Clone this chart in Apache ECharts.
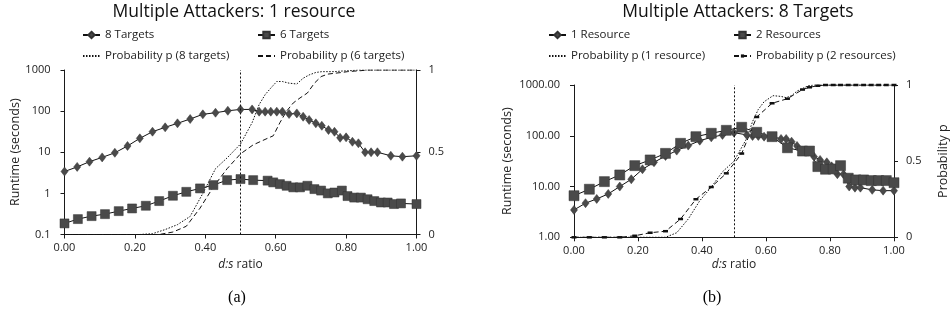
<!DOCTYPE html>
<html>
<head>
<meta charset="utf-8">
<script src="https://cdn.jsdelivr.net/npm/echarts@6/dist/echarts.min.js"></script>
<style>
html,body{margin:0;padding:0;background:#fff;}
#c{width:951px;height:320px;}
</style>
</head>
<body>
<div id="c"></div>
<script>
// ---------- Chart (a): Multiple Attackers: 1 resource ----------
const xTargets8 = [0, 0.036, 0.071, 0.107, 0.143, 0.179, 0.214, 0.25, 0.286, 0.321, 0.357, 0.393, 0.429, 0.464, 0.5, 0.533, 0.553, 0.57, 0.586, 0.603, 0.619, 0.638, 0.66, 0.678, 0.695, 0.714, 0.731, 0.75, 0.767, 0.783, 0.80, 0.818, 0.835, 0.854, 0.871, 0.889, 0.927, 0.96, 1.0];
const runtimeTargets8 = [3.4, 4.4, 5.9, 7.5, 9.7, 14.2, 21.8, 31.6, 40.4, 50.5, 64.3, 83.6, 91.5, 102, 110, 110, 97, 97, 97, 97, 97, 85, 88, 73, 61, 50.5, 44, 34.7, 31.5, 22.5, 23, 18, 16.5, 10, 10, 10, 8.2, 7.8, 8.2];
const probTargets8 = [0, 0, 0, 0, 0, 0, 0, 0.005, 0.03, 0.06, 0.11, 0.25, 0.40, 0.47, 0.55, 0.68, 0.79, 0.85, 0.89, 0.93, 0.93, 0.92, 0.915, 0.95, 0.97, 0.985, 0.99, 0.99, 0.99, 0.993, 0.995, 0.997, 1, 1, 1, 1, 1, 1, 1];

const xTargets6 = [0, 0.038, 0.077, 0.115, 0.154, 0.192, 0.231, 0.269, 0.308, 0.346, 0.385, 0.423, 0.462, 0.5, 0.536, 0.577, 0.593, 0.612, 0.631, 0.65, 0.669, 0.69, 0.71, 0.729, 0.748, 0.767, 0.788, 0.804, 0.823, 0.842, 0.861, 0.88, 0.899, 0.918, 0.936, 0.956, 1.0];
const runtimeTargets6 = [0.186, 0.237, 0.28, 0.313, 0.37, 0.43, 0.50, 0.65, 0.875, 1.09, 1.32, 1.59, 2.1, 2.23, 2.1, 2.04, 1.85, 1.68, 1.53, 1.40, 1.40, 1.53, 1.27, 1.17, 1.0, 1.05, 1.17, 0.86, 0.79, 0.79, 0.72, 0.65, 0.60, 0.60, 0.55, 0.57, 0.55];
const probTargets6 = [0, 0, 0, 0, 0, 0, 0, 0, 0.015, 0.05, 0.16, 0.29, 0.40, 0.49, 0.545, 0.585, 0.60, 0.68, 0.75, 0.80, 0.83, 0.86, 0.92, 0.96, 0.975, 0.98, 0.985, 0.99, 0.993, 0.996, 1, 1, 1, 1, 1, 1, 1];

// ---------- Chart (b): Multiple Attackers: 8 Targets ----------
const xRes1 = [0, 0.036, 0.071, 0.107, 0.143, 0.179, 0.214, 0.25, 0.286, 0.321, 0.357, 0.393, 0.429, 0.464, 0.5, 0.54, 0.558, 0.576, 0.594, 0.622, 0.647, 0.663, 0.68, 0.697, 0.732, 0.75, 0.769, 0.79, 0.805, 0.823, 0.842, 0.86, 0.878, 0.895, 0.932, 0.966, 1.0];
const runtimeRes1 = [3.46, 4.7, 5.7, 7.15, 10, 13.9, 21.9, 30, 40, 51, 64, 80, 93, 104, 115, 104, 99, 99, 96, 96, 86.5, 86.5, 76.5, 63, 48.6, 38.8, 33.4, 30, 25, 17.5, 17.5, 10, 9.5, 9.5, 8.6, 8.3, 8.3];
const probRes1 = [0, 0, 0, 0, 0, 0, 0, 0, 0, 0.03, 0.12, 0.24, 0.33, 0.43, 0.50, 0.65, 0.76, 0.84, 0.89, 0.93, 0.925, 0.917, 0.93, 0.96, 0.995, 1, 1, 1, 1, 1, 1, 1, 1, 1, 1, 1, 1];

const xRes2 = [0, 0.048, 0.095, 0.143, 0.19, 0.238, 0.286, 0.333, 0.381, 0.429, 0.476, 0.524, 0.571, 0.619, 0.667, 0.714, 0.736, 0.762, 0.786, 0.81, 0.833, 0.857, 0.881, 0.905, 0.929, 0.952, 0.976, 1.0];
const runtimeRes2 = [6.6, 8.85, 12.5, 16.9, 25.8, 33.4, 45, 71, 96, 112, 128, 147, 117, 96, 58, 50, 50, 24.7, 21.9, 22.2, 25.8, 14.6, 13.5, 13.5, 13.1, 13.1, 13.1, 11.9];
const probRes2 = [0, 0, 0, 0, 0.01, 0.03, 0.04, 0.12, 0.25, 0.33, 0.42, 0.55, 0.79, 0.88, 0.91, 0.97, 0.985, 0.995, 1, 1, 1, 1, 1, 1, 1, 1, 1, 1];

const xTicks = [0, 0.2, 0.4, 0.6, 0.8, 1.0];
const thresholdRatio = 0.5;

const zip = (xs, ys) => xs.map((x, i) => [x, ys[i]]);

const FONT = '"Open Sans", "Liberation Sans", sans-serif';
const AX = '#1a1a1a';
const TXT = '#222';
const MARK = '#4a4a4a';

function xAxisCfg(gridIndex) {
  return {
    type: 'value', gridIndex, min: 0, max: 1, interval: 0.2,
    axisLine: { show: true, lineStyle: { color: AX, width: 1 } },
    axisTick: { show: true, length: 4, lineStyle: { color: AX } },
    splitLine: { show: false },
    axisLabel: { formatter: v => v.toFixed(2), fontFamily: FONT, fontSize: 11, color: TXT, margin: 8 },
    name: '{it|d:s} ratio', nameLocation: 'middle', nameGap: 21,
    nameTextStyle: { fontFamily: FONT, fontSize: 12, color: TXT, rich: { it: { fontFamily: FONT, fontSize: 12, fontStyle: 'italic', color: TXT } } }
  };
}
function logAxisCfg(gridIndex, min, fmt, nameGap) {
  return {
    type: 'log', logBase: 10, gridIndex, min, max: 1000, position: 'left',
    axisLine: { show: true, lineStyle: { color: AX, width: 1 } },
    axisTick: { show: true, length: 4, lineStyle: { color: AX } },
    minorTick: { show: false },
    splitLine: { show: false },
    axisLabel: { formatter: fmt, fontFamily: FONT, fontSize: 11, color: TXT, margin: 14 },
    name: 'Runtime (seconds)', nameLocation: 'middle', nameRotate: 90, nameGap,
    nameTextStyle: { fontFamily: FONT, fontSize: 12.5, color: TXT }
  };
}
function probAxisCfg(gridIndex, showName) {
  const a = {
    type: 'value', gridIndex, min: 0, max: 1, interval: 0.5, position: 'right',
    axisLine: { show: true, lineStyle: { color: AX, width: 1 } },
    axisTick: { show: true, length: 4, lineStyle: { color: AX } },
    splitLine: { show: false },
    axisLabel: { formatter: v => (v === 0.5 ? '0.5' : String(v)), fontFamily: FONT, fontSize: 11, color: TXT, margin: 12 }
  };
  if (showName) {
    a.name = 'Probability p'; a.nameLocation = 'middle'; a.nameRotate = 90; a.nameGap = 43;
    a.nameTextStyle = { fontFamily: FONT, fontSize: 12.5, color: TXT };
  }
  return a;
}
const vline = {
  silent: true, symbol: 'none', label: { show: false },
  lineStyle: { color: '#111', type: [2, 2], width: 1 },
  data: [{ xAxis: thresholdRatio }]
};
function runtimeSeries(name, xi, yi, data, symbol, size) {
  return {
    name, type: 'line', xAxisIndex: xi, yAxisIndex: yi, data,
    symbol, symbolSize: size, showSymbol: true,
    lineStyle: { color: '#111', width: 1 },
    itemStyle: { color: MARK, borderColor: '#333', borderWidth: 0.5 },
    z: 3, animation: false
  };
}
function probSeries(name, xi, yi, data, type, extra) {
  return Object.assign({
    name, type: 'line', xAxisIndex: xi, yAxisIndex: yi, data,
    symbol: 'none', showSymbol: false,
    lineStyle: { color: '#111', width: 1, type },
    itemStyle: { color: '#111' },
    z: 2, animation: false
  }, extra || {});
}
function legendAt(name, left, top, hideSymbol, itemHeight) {
  const l = {
    data: [name], left, top, padding: 0, itemWidth: 17, itemHeight: itemHeight || 8,
    selectedMode: false,
    textStyle: { fontFamily: FONT, fontSize: 11.5, color: TXT }
  };
  if (hideSymbol) l.itemStyle = { opacity: 0 };
  return l;
}

const chart = echarts.init(document.getElementById('c'), null, { renderer: 'canvas' });
chart.setOption({
  backgroundColor: '#fff',
  animation: false,
  grid: [
    { left: 64.5, right: 534.5, top: 70, bottom: 85.5 },
    { left: 574, right: 57, top: 85, bottom: 82.7 }
  ],
  xAxis: [xAxisCfg(0), xAxisCfg(1)],
  yAxis: [
    logAxisCfg(0, 0.1, v => String(v), 41),
    probAxisCfg(0, false),
    logAxisCfg(1, 1, v => Number(v).toFixed(2), 60),
    probAxisCfg(1, true)
  ],
  legend: [
    legendAt('8 Targets', 82, 29),
    legendAt('6 Targets', 257, 29),
    legendAt('Probability p (8 targets)', 82, 50, true),
    legendAt('Probability p (6 targets)', 257, 50, true),
    legendAt('1 Resource', 548, 29),
    legendAt('2 Resources', 733, 29),
    legendAt('Probability p (1 resource)', 548, 50, true),
    legendAt('Probability p (2 resources)', 733, 50, false, 4)
  ],
  series: [
    runtimeSeries('8 Targets', 0, 0, zip(xTargets8, runtimeTargets8), 'diamond', [7, 9]),
    runtimeSeries('6 Targets', 0, 0, zip(xTargets6, runtimeTargets6), 'rect', 9),
    probSeries('Probability p (8 targets)', 0, 1, zip(xTargets8, probTargets8), [1.5, 1.5], { markLine: vline }),
    probSeries('Probability p (6 targets)', 0, 1, zip(xTargets6, probTargets6), [5, 3]),
    runtimeSeries('1 Resource', 1, 2, zip(xRes1, runtimeRes1), 'diamond', [7, 9]),
    runtimeSeries('2 Resources', 1, 2, zip(xRes2, runtimeRes2), 'rect', 10),
    probSeries('Probability p (1 resource)', 1, 3, zip(xRes1, probRes1), [1.5, 1.5], { markLine: vline }),
    probSeries('Probability p (2 resources)', 1, 3, zip(xRes2, probRes2), [5, 3],
      { symbol: 'rect', symbolSize: [5, 2.5], showSymbol: true })
  ],
  graphic: [
    { type: 'text', x: 234, y: 12, style: { text: 'Multiple Attackers: 1 resource', textAlign: 'center', textVerticalAlign: 'middle', fontFamily: FONT, fontSize: 17.5, fill: '#111' } },
    { type: 'text', x: 738, y: 12, style: { text: 'Multiple Attackers: 8 Targets', textAlign: 'center', textVerticalAlign: 'middle', fontFamily: FONT, fontSize: 17.5, fill: '#111' } },
    { type: 'text', x: 237, y: 298, style: { text: '(a)', textAlign: 'center', textVerticalAlign: 'middle', fontFamily: '"Liberation Serif", "DejaVu Serif", serif', fontSize: 16, fill: '#000' } },
    { type: 'text', x: 712, y: 298, style: { text: '(b)', textAlign: 'center', textVerticalAlign: 'middle', fontFamily: '"Liberation Serif", "DejaVu Serif", serif', fontSize: 16, fill: '#000' } }
  ]
});
</script>
</body>
</html>
